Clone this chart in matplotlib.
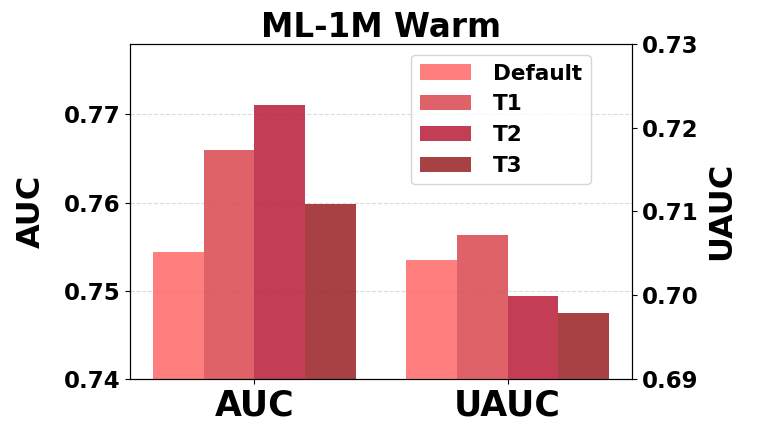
import numpy as np
import matplotlib.pyplot as plt

methods = ['Default', 'T1', 'T2', 'T3']
metrics = ['AUC', 'UAUC']
auc_vals = [0.7544, 0.7660, 0.7711, 0.7598]
uauc_vals = [0.7042, 0.7072, 0.6999, 0.6979]
colors = ['#ff6868', '#da474d', '#b91c37', '#982023']

plt.rcParams['font.weight'] = 'bold'

fig, ax = plt.subplots(figsize=(7.62, 4.30), dpi=100)
ax2 = ax.twinx()

width = 0.2
offsets = (np.arange(len(methods)) - 1.5) * width
for i, m in enumerate(methods):
    ax.bar(0 + offsets[i], auc_vals[i], width, color=colors[i], alpha=0.85,
           label=m, zorder=2)
    ax2.bar(1 + offsets[i], uauc_vals[i], width, color=colors[i], alpha=0.85,
            zorder=2)

ax.set_ylim(0.74, 0.778)
ax2.set_ylim(0.69, 0.73)
ax.set_yticks([0.74, 0.75, 0.76, 0.77])
ax2.set_yticks([0.69, 0.70, 0.71, 0.72, 0.73])
ax.set_xticks([0, 1])
ax.set_xticklabels(metrics, fontsize=25, fontweight='bold')
ax.tick_params(axis='y', labelsize=16.5)
ax2.tick_params(axis='y', labelsize=16.5)
for lbl in ax.get_yticklabels() + ax2.get_yticklabels():
    lbl.set_fontweight('bold')

ax.yaxis.grid(True, linestyle='--', color='#c8ccd4', alpha=0.7, zorder=0)
ax.set_axisbelow(True)

ax.set_ylabel('AUC', fontsize=23, fontweight='bold', labelpad=12)
ax2.set_ylabel('UAUC', fontsize=23, fontweight='bold', labelpad=6)
ax.set_title('ML-1M Warm', fontsize=23.5, fontweight='bold', pad=5)

ax.legend(loc='upper right', prop={'size': 15.5, 'weight': 'bold'},
          bbox_to_anchor=(0.918, 0.967), borderaxespad=0,
          handlelength=2.4, handletextpad=1.0)

plt.subplots_adjust(left=0.171, right=0.829, top=0.898, bottom=0.119)
plt.savefig('out.png', dpi=100)
